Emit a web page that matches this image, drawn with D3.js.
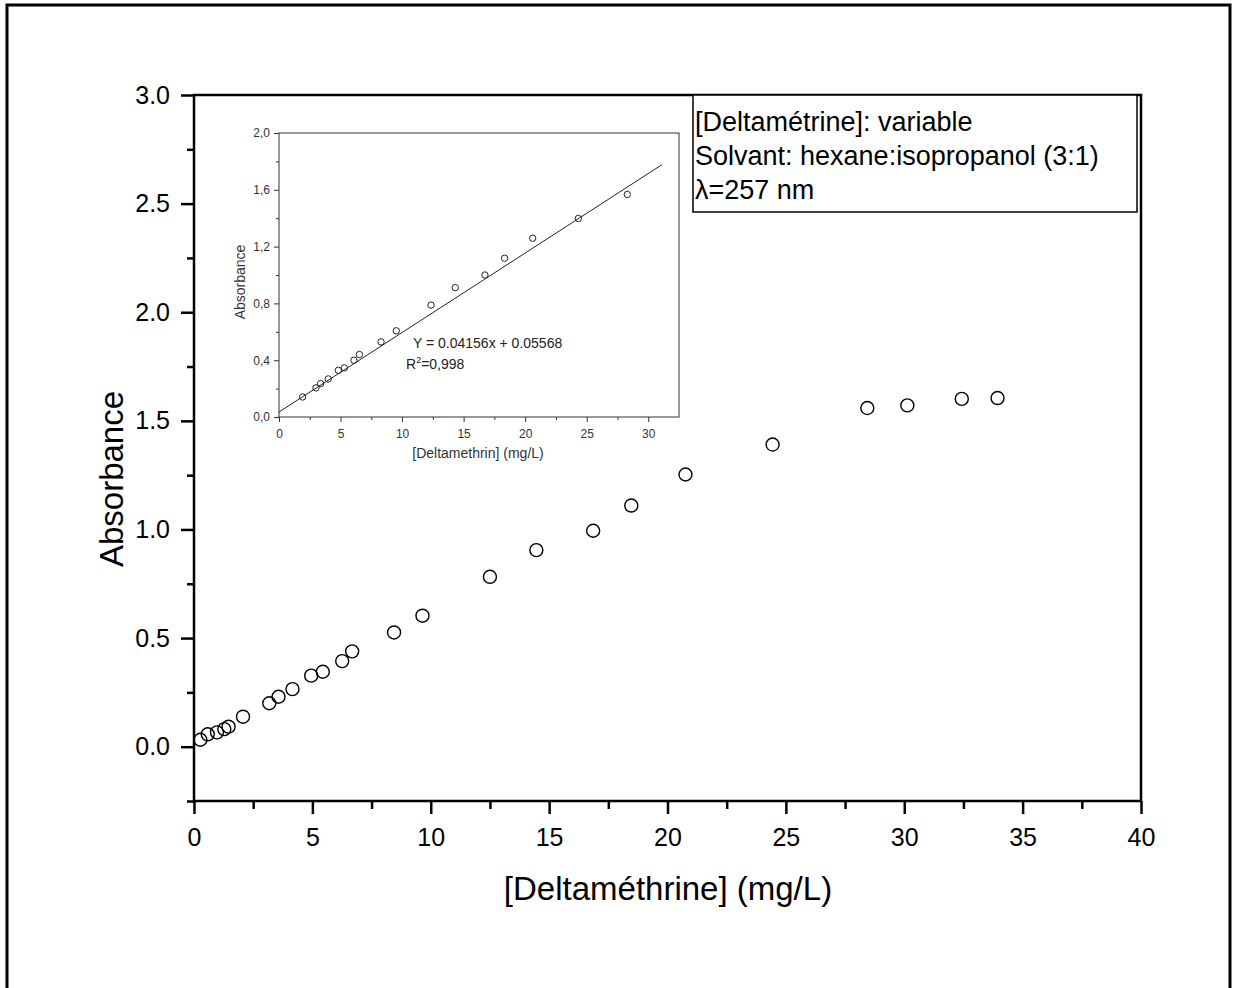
<!DOCTYPE html>
<html lang="en">
<head>
<meta charset="utf-8">
<title>Deltamethrin absorbance</title>
<script src="https://cdn.jsdelivr.net/npm/d3@7"></script>
<style>
  body { margin: 0; background: #fff; }
  svg text { font-family: "Liberation Sans", Arial, sans-serif; }
  .main .domain { display: none; }
  .main .tick line { stroke: #000; stroke-width: 2.5; }
  .inset .domain { display: none; }
  .inset .tick line { stroke: #333; stroke-width: 1; }
</style>
</head>
<body>
<div id="chart"></div>
<script>
// main plot data
var concMain = [0.27, 0.58, 0.97, 1.28, 1.46, 2.07, 3.18, 3.57, 4.16, 4.95, 5.44, 6.26, 6.68,
                8.45, 9.65, 12.5, 14.46, 16.86, 18.47, 20.76, 24.44, 28.44, 30.13, 32.43, 33.94];
var absMain = [0.032, 0.057, 0.066, 0.081, 0.092, 0.138, 0.20, 0.23, 0.265, 0.327, 0.345, 0.394, 0.439,
               0.526, 0.603, 0.782, 0.905, 0.994, 1.11, 1.253, 1.391, 1.559, 1.571, 1.601, 1.605];

// inset data
var concInset = [1.92, 3.0, 3.38, 4.0, 4.82, 5.31, 6.09, 6.53, 8.29, 9.53, 12.35, 14.32, 16.73, 18.33, 20.61, 24.32, 28.3];
var absInset = [0.141, 0.205, 0.235, 0.268, 0.329, 0.346, 0.40, 0.44, 0.529, 0.607, 0.788, 0.911, 1.0, 1.118, 1.259, 1.398, 1.567];
// fitted line as drawn (end points)
var fitX = [0, 31.1];
var fitY = [0.035, 1.776];

var mainXTicks = [0, 5, 10, 15, 20, 25, 30, 35, 40];
var mainXMinor = [2.5, 7.5, 12.5, 17.5, 22.5, 27.5, 32.5, 37.5];
var mainYTicks = [0, 0.5, 1.0, 1.5, 2.0, 2.5, 3.0];
var mainYMinor = [-0.25, 0.25, 0.75, 1.25, 1.75, 2.25, 2.75];
var insetXTicks = [0, 5, 10, 15, 20, 25, 30];
var insetXMinor = [2.5, 7.5, 12.5, 17.5, 22.5, 27.5];
var insetYTicks = [0, 0.4, 0.8, 1.2, 1.6, 2.0];
var insetYMinor = [0.2, 0.6, 1.0, 1.4, 1.8];

var legendLines = ["[Deltamétrine]: variable", "Solvant: hexane:isopropanol (3:1)", "λ=257 nm"];

var W = 1239, H = 988;
var svg = d3.select("#chart").append("svg")
    .attr("width", W)
    .attr("height", H);

// outer frame (bottom edge is off the page)
svg.append("rect")
    .attr("x", 7).attr("y", 5)
    .attr("width", 1223).attr("height", 1000)
    .attr("fill", "none").attr("stroke", "#000").attr("stroke-width", 3);

// ---------- main plot ----------
var x = d3.scaleLinear().domain([0, 40]).range([194, 1141]);
var y = d3.scaleLinear().domain([-0.25, 3]).range([801, 95]);

var main = svg.append("g").attr("class", "main");

var xAxis = d3.axisBottom(x).tickValues(mainXTicks).tickSize(13).tickPadding(14)
    .tickFormat(d3.format("d"));
var xMinor = d3.axisBottom(x).tickValues(mainXMinor).tickSize(8).tickFormat("");
var yAxis = d3.axisLeft(y).tickValues(mainYTicks).tickSize(13).tickPadding(11)
    .tickFormat(d3.format(".1f"));
var yMinor = d3.axisLeft(y).tickValues(mainYMinor).tickSize(7).tickFormat("");

main.append("g").attr("transform", "translate(0," + y(-0.25) + ")").call(xAxis)
    .selectAll("text").style("font-size", "25px").attr("fill", "#000");
main.append("g").attr("transform", "translate(0," + y(-0.25) + ")").call(xMinor);
main.append("g").attr("transform", "translate(" + x(0) + ",0)").call(yAxis)
    .selectAll("text").style("font-size", "25px").attr("fill", "#000");
main.append("g").attr("transform", "translate(" + x(0) + ",0)").call(yMinor);

// frame lines of the plot area
main.append("rect")
    .attr("x", x(0)).attr("y", y(3))
    .attr("width", x(40) - x(0)).attr("height", y(-0.25) - y(3))
    .attr("fill", "none").attr("stroke", "#000").attr("stroke-width", 2.5);

main.append("text")
    .attr("transform", "translate(123,479) rotate(-90)")
    .attr("text-anchor", "middle")
    .style("font-size", "33px")
    .text("Absorbance");

main.append("text")
    .attr("x", 668).attr("y", 900)
    .attr("text-anchor", "middle")
    .style("font-size", "33px")
    .text("[Deltaméthrine] (mg/L)");

main.selectAll("circle.pt")
    .data(concMain)
    .enter()
    .append("circle")
    .attr("class", "pt")
    .attr("cx", function(d) { return x(d); })
    .attr("cy", function(d, i) { return y(absMain[i]); })
    .attr("r", 6.5)
    .attr("fill", "none")
    .attr("stroke", "#000")
    .attr("stroke-width", 1.4);

// legend box
var leg = svg.append("g");
leg.append("rect")
    .attr("x", 693).attr("y", 95)
    .attr("width", 444).attr("height", 117)
    .attr("fill", "#fff").attr("stroke", "#000").attr("stroke-width", 1.5);
leg.selectAll("text")
    .data(legendLines)
    .enter()
    .append("text")
    .attr("x", 695)
    .attr("y", function(d, i) { return 131 + i * 34; })
    .style("font-size", "27px")
    .text(function(d) { return d; });

// ---------- inset ----------
var ix = d3.scaleLinear().domain([0, 32.5]).range([279, 679]);
var iy = d3.scaleLinear().domain([0, 2]).range([417, 133]);
var commaFmt = function(d) { return d.toFixed(1).replace(".", ","); };

var inset = svg.append("g").attr("class", "inset");

inset.append("g").attr("transform", "translate(0," + iy(0) + ")")
    .call(d3.axisBottom(ix).tickValues(insetXTicks).tickSize(5).tickPadding(7).tickFormat(d3.format("d")))
    .selectAll("text").style("font-size", "12px").attr("fill", "#333");
inset.append("g").attr("transform", "translate(0," + iy(0) + ")")
    .call(d3.axisBottom(ix).tickValues(insetXMinor).tickSize(3).tickFormat(""));
inset.append("g").attr("transform", "translate(" + ix(0) + ",0)")
    .call(d3.axisLeft(iy).tickValues(insetYTicks).tickSize(5).tickPadding(4).tickFormat(commaFmt))
    .selectAll("text").style("font-size", "12px").attr("fill", "#333");
inset.append("g").attr("transform", "translate(" + ix(0) + ",0)")
    .call(d3.axisLeft(iy).tickValues(insetYMinor).tickSize(3).tickFormat(""));

inset.append("rect")
    .attr("x", ix(0)).attr("y", iy(2))
    .attr("width", ix(32.5) - ix(0)).attr("height", iy(0) - iy(2))
    .attr("fill", "none").attr("stroke", "#333").attr("stroke-width", 1);

inset.append("text")
    .attr("transform", "translate(245,282) rotate(-90)")
    .attr("text-anchor", "middle")
    .style("font-size", "14px").attr("fill", "#333")
    .text("Absorbance");
inset.append("text")
    .attr("x", 478).attr("y", 458)
    .attr("text-anchor", "middle")
    .style("font-size", "14px").attr("fill", "#333")
    .text("[Deltamethrin] (mg/L)");

var line = d3.line()
    .x(function(d) { return ix(d); })
    .y(function(d, i) { return iy(fitY[i]); });
inset.append("path")
    .datum(fitX)
    .attr("d", line)
    .attr("fill", "none")
    .attr("stroke", "#222")
    .attr("stroke-width", 1);

inset.selectAll("circle.ipt")
    .data(concInset)
    .enter()
    .append("circle")
    .attr("class", "ipt")
    .attr("cx", function(d) { return ix(d); })
    .attr("cy", function(d, i) { return iy(absInset[i]); })
    .attr("r", 3.2)
    .attr("fill", "none")
    .attr("stroke", "#222")
    .attr("stroke-width", 1);

var eq = inset.append("g").style("font-size", "14px").attr("fill", "#222");
eq.append("text").attr("x", 413).attr("y", 348).text("Y = 0.04156x + 0.05568");
var r2 = eq.append("text").attr("x", 406).attr("y", 369);
r2.append("tspan").text("R");
r2.append("tspan").attr("dy", -6).style("font-size", "9px").text("2");
r2.append("tspan").attr("dy", 6).text("=0,998");
</script>
</body>
</html>
